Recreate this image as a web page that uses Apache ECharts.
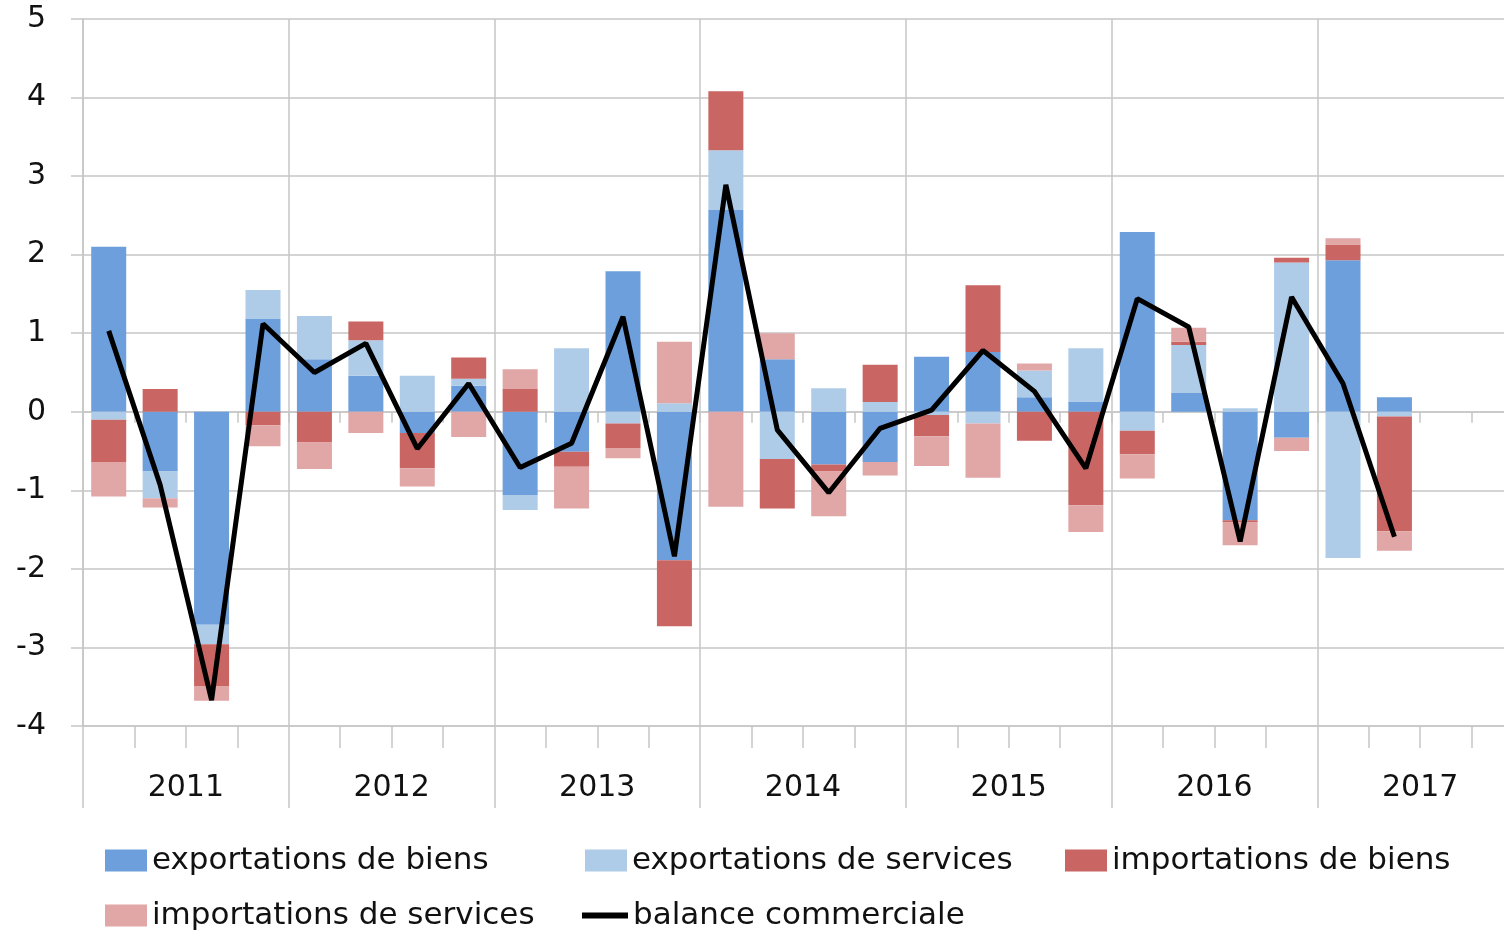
<!DOCTYPE html>
<html>
<head>
<meta charset="utf-8">
<script src="https://cdn.jsdelivr.net/npm/echarts@6/dist/echarts.min.js"></script>
<style>
  html, body { margin: 0; padding: 0; background: #fff; }
  #chart { width: 1504px; height: 932px; }
</style>
</head>
<body>
<div id="chart"></div>
<script>
// trimestres 2011T1 .. 2017T4 (les deux derniers vides)
var years = ['2011', '2012', '2013', '2014', '2015', '2016', '2017']
var quarters = []
years.forEach(function (y) {
    for (var q = 1; q <= 4; q++) quarters.push(y + 'T' + q)
})

// contributions, en points
var expBiens = [2.10, -0.76, -2.71, 1.18, 0.67, 0.46, -0.27, 0.33, -1.06, -0.51, 1.79, -1.89, 2.57, 0.67, -0.67, -0.64, 0.70, 0.76, 0.185, 0.13, 2.29, 0.24, -1.38, -0.33, 1.93, 0.185]
var expServices = [-0.10, -0.34, -0.25, 0.37, 0.55, 0.45, 0.46, 0.09, -0.19, 0.81, -0.15, 0.11, 0.76, -0.60, 0.30, 0.125, -0.04, -0.15, 0.34, 0.68, -0.24, 0.61, 0.045, 1.90, -1.86, -0.06]
var impBiens = [-0.54, 0.29, -0.53, -0.17, -0.39, 0.24, -0.45, 0.27, 0.29, -0.19, -0.31, -0.84, 0.75, -0.63, -0.09, 0.475, -0.27, 0.85, -0.37, -1.19, -0.30, 0.04, -0.03, 0.06, 0.20, -1.46]
var impServices = [-0.44, -0.12, -0.19, -0.27, -0.34, -0.27, -0.23, -0.32, 0.25, -0.53, -0.13, 0.78, -1.21, 0.33, -0.57, -0.17, -0.38, -0.69, 0.09, -0.34, -0.31, 0.18, -0.29, -0.17, 0.08, -0.25]
var balance = [1.03, -0.93, -3.67, 1.12, 0.50, 0.87, -0.47, 0.36, -0.71, -0.40, 1.21, -1.84, 2.89, -0.23, -1.03, -0.21, 0.02, 0.78, 0.26, -0.72, 1.44, 1.08, -1.65, 1.46, 0.36, -1.59]

var names = ['exportations de biens', 'exportations de services', 'importations de biens', 'importations de services', 'balance commerciale']
var colors = ['#6c9fdb', '#aecce8', '#c96563', '#e1a6a6', '#000000']

var FONT = "'DejaVu Sans', sans-serif"
var FSIZE = 30
var textColor = '#111'
var gridColor = '#c6c6c6'

function bar(i, data) {
    return {
        name: names[i],
        type: 'bar',
        stack: 'total',
        barWidth: 35,
        data: data,
        itemStyle: {color: colors[i]},
        z: 2
    }
}

// une légende par élément pour les placer en colonnes
function legendAt(i, left, top, extra) {
    var l = {
        data: [names[i]],
        left: left,
        top: top,
        padding: 0,
        itemWidth: 42,
        itemHeight: 22,
        itemGap: 0,
        selectedMode: false,
        icon: 'rect',
        textStyle: {fontFamily: FONT, fontSize: 31, color: textColor, lineHeight: 30, padding: 0}
    }
    for (var k in extra) l[k] = extra[k]
    return l
}

var chart = echarts.init(document.getElementById('chart'))
chart.setOption({
    animation: false,
    backgroundColor: '#fff',
    // la dernière année déborde à droite de l'image
    grid: {left: 83, width: 1440, top: 19, bottom: 206, outerBoundsMode: 'none', containLabel: false},
    legend: [
        legendAt(0, 105, 845),
        legendAt(1, 585, 845),
        legendAt(2, 1065, 845),
        legendAt(3, 105, 900),
        legendAt(4, 582, 900, {itemWidth: 46, itemHeight: 6})
    ],
    xAxis: [
        {
            // trimestres, axe sur le zero
            type: 'category',
            data: quarters,
            position: 'bottom',
            axisLine: {onZero: true, lineStyle: {color: gridColor, width: 1.5}},
            axisTick: {show: true, interval: 0, length: 11, lineStyle: {color: gridColor, width: 1.5}},
            axisLabel: {show: false},
            splitLine: {show: false}
        },
        {
            // trimestres, ticks en bas
            type: 'category',
            data: quarters,
            position: 'bottom',
            axisLine: {onZero: false, lineStyle: {color: gridColor, width: 1.5}},
            axisTick: {show: true, interval: 0, length: 22, lineStyle: {color: gridColor, width: 1.5}},
            axisLabel: {show: false},
            splitLine: {show: false}
        },
        {
            // années
            type: 'category',
            data: years,
            position: 'bottom',
            axisLine: {show: false, onZero: false},
            axisTick: {show: true, interval: 0, length: 82, lineStyle: {color: gridColor, width: 1.5}},
            axisLabel: {show: true, interval: 0, margin: 47, fontFamily: FONT, fontSize: FSIZE, color: textColor},
            splitLine: {show: true, interval: 0, lineStyle: {color: gridColor, width: 1.5}}
        }
    ],
    yAxis: {
        type: 'value',
        min: -4,
        max: 5,
        interval: 1,
        axisLine: {show: true, lineStyle: {color: gridColor, width: 1.5}},
        axisTick: {show: true, length: 12, lineStyle: {color: gridColor, width: 1.5}},
        axisLabel: {margin: 37, fontFamily: FONT, fontSize: FSIZE, color: textColor},
        splitLine: {show: true, lineStyle: {color: gridColor, width: 1.5}}
    },
    series: [
        bar(0, expBiens),
        bar(1, expServices),
        bar(2, impBiens),
        bar(3, impServices),
        {
            name: names[4],
            type: 'line',
            data: balance,
            symbol: 'none',
            lineStyle: {color: '#000', width: 5},
            itemStyle: {color: '#000'},
            z: 5
        }
    ]
})
</script>
</body>
</html>
